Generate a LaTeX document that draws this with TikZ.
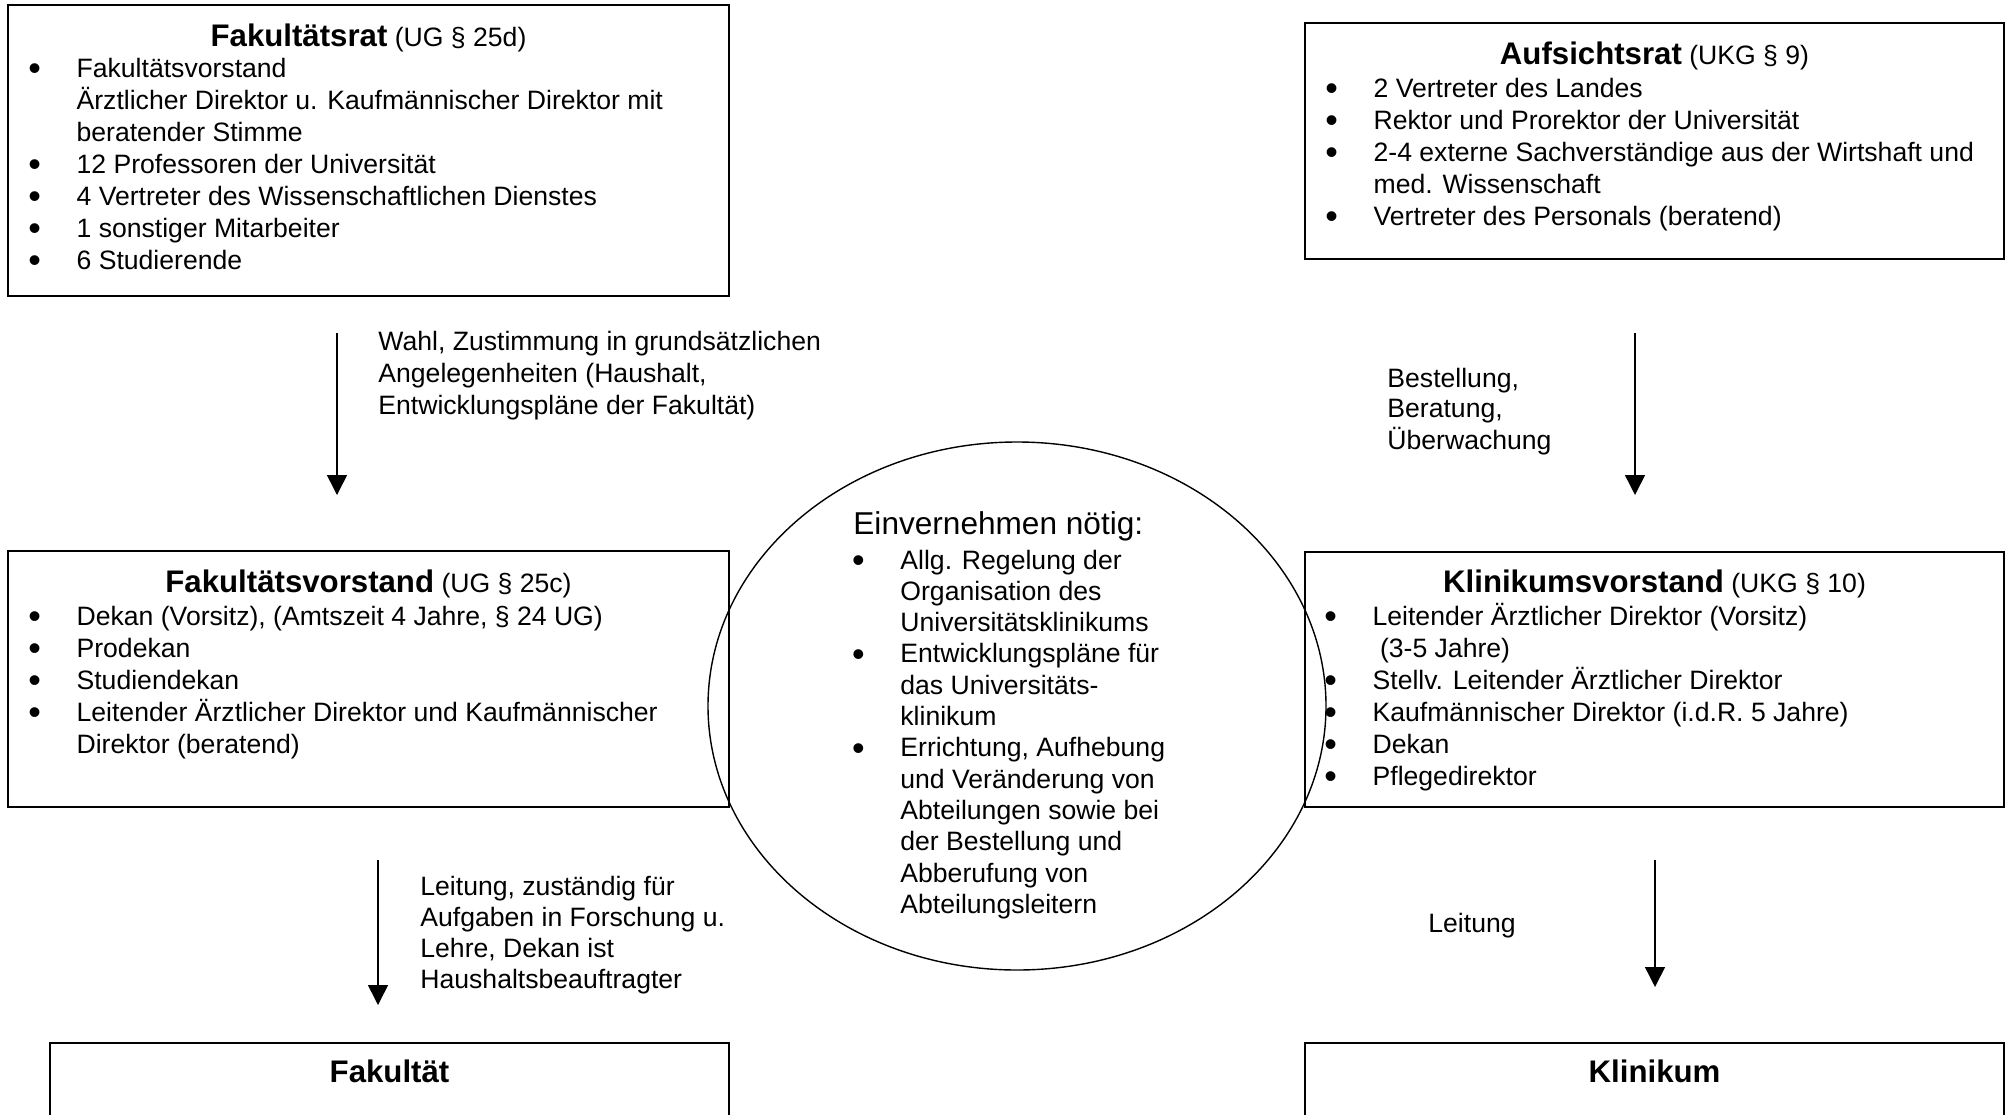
\documentclass[tikz,border=0pt]{standalone}
\usepackage{fontspec}
\setmainfont{Liberation Sans}
\usetikzlibrary{arrows.meta,fit,shapes.geometric}
\newcommand{\titel}[1]{{\fontsize{15.6}{16}\selectfont\bfseries #1}}
\newcommand{\pkt}{\llap{\makebox[42pt][c]{\raisebox{-0.12em}{\scalebox{1.35}{\textbullet}}}}}
\newcommand{\punkte}[1]{\begin{tabular}[t]{@{}l@{}}#1\end{tabular}}

\begin{document}
\begin{tikzpicture}[x=0.5pt,y=-0.5pt,
	kasten/.style={draw, line width=0.8pt, inner sep=0pt},
	kopf/.style={anchor=base, inner sep=0pt, font=\fontsize{13.3}{16}\selectfont},
	liste/.style={anchor=base west, inner sep=0pt, font=\fontsize{13.3}{16}\selectfont},
	pfeil/.style={-{Triangle[length=10pt,width=10pt]}, line width=0.75pt}]
	\useasboundingbox (0,0) rectangle (2007,1114);
	\clip (0,0) rectangle (2007,1114);
	% Kaesten
	\node[kasten, fit={(8,5) (729,296)}] (rat) {};
	\node[kasten, fit={(1305,23) (2004,259)}] (aufsicht) {};
	\node[kasten, fit={(8,551) (729,807)}] (fvorstand) {};
	\node[kasten, fit={(1305,552) (2004,807)}] (kvorstand) {};
	\node[kasten, fit={(50,1043) (729,1150)}] (fak) {};
	\node[kasten, fit={(1305,1043) (2004,1150)}] (klinik) {};
	\node[draw, ellipse, line width=0.7pt, inner sep=0pt, minimum width=309pt, minimum height=264pt] (einv) at (1017,706) {};
	
	% Ueberschriften
	\node[kopf] (rat-k) at ([yshift=-21pt]rat.north) {\titel{Fakultätsrat} (UG § 25d)};
	\node[kopf] (aufsicht-k) at ([yshift=-21pt]aufsicht.north) {\titel{Aufsichtsrat} (UKG § 9)};
	\node[kopf] (fvorstand-k) at ([yshift=-21pt]fvorstand.north) {\titel{Fakultätsvorstand} (UG § 25c)};
	\node[kopf] (kvorstand-k) at ([yshift=-20.5pt]kvorstand.north) {\titel{Klinikumsvorstand} (UKG § 10)};
	\node[kopf] (fak-k) at ([yshift=-20pt]fak.north) {\titel{Fakultät}};
	\node[kopf] (klinik-k) at ([yshift=-20pt]klinik.north) {\titel{Klinikum}};
	
	% Listen
	\node[liste] (rat-l) at ([xshift=34.5pt,yshift=-36.5pt]rat.north west) {\punkte{
		\pkt Fakultätsvorstand\\
		Ärztlicher Direktor u. Kaufmännischer Direktor mit\\
		beratender Stimme\\
		\pkt 12 Professoren der Universität\\
		\pkt 4 Vertreter des Wissenschaftlichen Dienstes\\
		\pkt 1 sonstiger Mitarbeiter\\
		\pkt 6 Studierende}};
	\node[liste] (aufsicht-l) at ([xshift=34.5pt,yshift=-37.8pt]aufsicht.north west) {\punkte{
		\pkt 2 Vertreter des Landes\\
		\pkt Rektor und Prorektor der Universität\\
		\pkt 2-4 externe Sachverständige aus der Wirtshaft und\\
		med. Wissenschaft\\
		\pkt Vertreter des Personals (beratend)}};
	\node[liste] (fvorstand-l) at ([xshift=34.5pt,yshift=-37.5pt]fvorstand.north west) {\punkte{
		\pkt Dekan (Vorsitz), (Amtszeit 4 Jahre, § 24 UG)\\
		\pkt Prodekan\\
		\pkt Studiendekan\\
		\pkt Leitender Ärztlicher Direktor und Kaufmännischer\\
		Direktor (beratend)}};
	\node[liste] (kvorstand-l) at ([xshift=34pt,yshift=-37pt]kvorstand.north west) {\punkte{
		\pkt Leitender Ärztlicher Direktor (Vorsitz)\\
		\ (3-5 Jahre)\\
		\pkt Stellv. Leitender Ärztlicher Direktor\\
		\pkt Kaufmännischer Direktor (i.d.R. 5 Jahre)\\
		\pkt Dekan\\
		\pkt Pflegedirektor}};
	
	% Einvernehmen
	\node[liste, font=\fontsize{15.8}{16}\selectfont] (einv-k) at (853,534) {Einvernehmen nötig:};
	\node[liste, font=\fontsize{13.3}{15.65}\selectfont] (einv-l) at (900,569) {\punkte{
		\pkt Allg. Regelung der\\
		Organisation des\\
		Universitätsklinikums\\
		\pkt Entwicklungspläne für\\
		das Universitäts-\\
		klinikum\\
		\pkt Errichtung, Aufhebung\\
		und Veränderung von\\
		Abteilungen sowie bei\\
		der Bestellung und\\
		Abberufung von\\
		Abteilungsleitern}};
	
	% Pfeile
	\coordinate (rat-a) at (337,333);
	\coordinate (fvorstand-a) at (337,495);
	\coordinate (aufsicht-a) at (1635,333);
	\coordinate (kvorstand-a) at (1635,495);
	\coordinate (fvorstand-b) at (378,860);
	\coordinate (fak-a) at (378,1005);
	\coordinate (kvorstand-b) at (1655,860);
	\coordinate (klinik-a) at (1655,987);
	\draw[pfeil] (rat-a) -- (fvorstand-a);
	\draw[pfeil] (aufsicht-a) -- (kvorstand-a);
	\draw[pfeil] (fvorstand-b) -- (fak-a);
	\draw[pfeil] (kvorstand-b) -- (klinik-a);
	
	\node[liste] (wahl) at (378,350) {\punkte{Wahl, Zustimmung in grundsätzlichen\\
		Angelegenheiten (Haushalt,\\
		Entwicklungspläne der Fakultät)}};
	\node[liste, font=\fontsize{13.3}{15.4}\selectfont] (bestellung) at (1387,387) {\punkte{Bestellung,\\
		Beratung,\\
		Überwachung}};
	\node[liste, font=\fontsize{13.3}{15.5}\selectfont] (leitung-f) at (420,895) {\punkte{Leitung, zuständig für\\
		Aufgaben in Forschung u.\\
		Lehre, Dekan ist\\
		Haushaltsbeauftragter}};
	\node[liste] (leitung-k) at (1428,932) {Leitung};
\end{tikzpicture}
\end{document}
